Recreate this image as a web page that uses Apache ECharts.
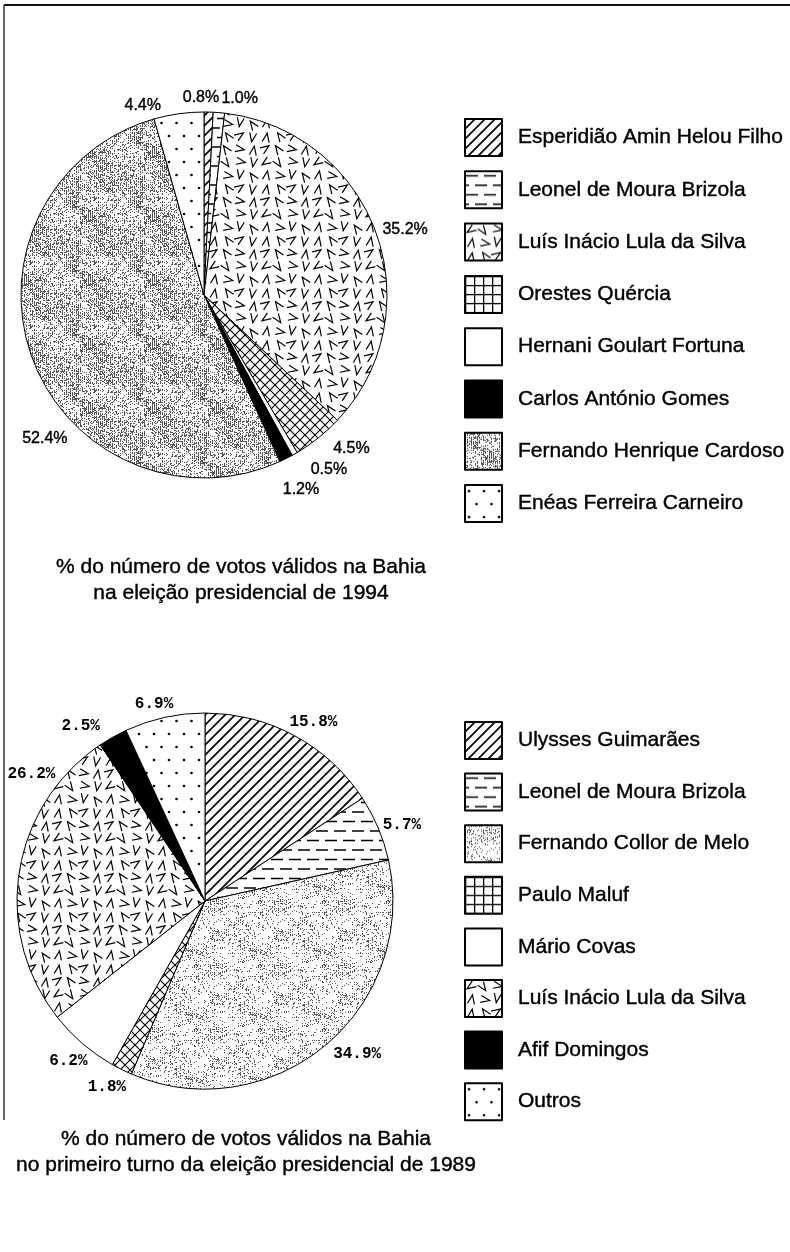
<!DOCTYPE html>
<html>
<head>
<meta charset="utf-8">
<script src="https://cdn.jsdelivr.net/npm/echarts@6/dist/echarts.min.js"></script>
<style>
  html, body { margin: 0; padding: 0; background: #fff; }
  #chart { width: 790px; height: 1252px; }
</style>
</head>
<body>
<div id="chart"></div>
<script>
// eleição presidencial de 1994 (Bahia), % dos votos válidos
const names1994 = ['Esperidião Amin Helou Filho', 'Leonel de Moura Brizola', 'Luís Inácio Lula da Silva',
  'Orestes Quércia', 'Hernani Goulart Fortuna', 'Carlos António Gomes', 'Fernando Henrique Cardoso',
  'Enéas Ferreira Carneiro']
const votes1994 = [0.8, 1.0, 35.2, 4.5, 0.5, 1.2, 52.4, 4.4]

// primeiro turno de 1989 (Bahia)
const names1989 = ['Ulysses Guimarães', 'Leonel de Moura Brizola', 'Fernando Collor de Melo', 'Paulo Maluf',
  'Mário Covas', 'Luís Inácio Lula da Silva', 'Afif Domingos', 'Outros']
const votes1989 = [15.8, 5.7, 34.9, 1.8, 6.2, 26.2, 2.5, 6.9]

const title1994 = '% do número de votos válidos na Bahia\nna eleição presidencial de 1994'
const title1989 = '% do número de votos válidos na Bahia\nno primeiro turno da eleição presidencial de 1989'

const SANS = 'Liberation Sans, Arial, sans-serif'
const MONO = 'Liberation Mono, Courier New, monospace'
// scanned print looks a bit heavier than the plain font
const INK = { color: '#000', textBorderColor: '#000', textBorderWidth: 0.4 }

// --- pattern tiles (the old b/w print hatching) ---
function tile(w, h, draw) {
  const c = document.createElement('canvas')
  c.width = w; c.height = h
  const g = c.getContext('2d')
  g.fillStyle = '#fff'; g.fillRect(0, 0, w, h)
  g.strokeStyle = '#000'; g.fillStyle = '#000'
  draw(g, w, h)
  return { image: c, repeat: 'repeat' }
}
// fixed hash so the texture is the same every run
function hash(x, y, s) {
  let h = Math.imul(x, 374761393) ^ Math.imul(y, 668265263) ^ Math.imul(s, 2246822519)
  h = Math.imul(h ^ (h >>> 13), 1274126177)
  return ((h ^ (h >>> 16)) >>> 0) / 4294967296
}

const P_HATCH = tile(10, 10, g => {
  g.lineWidth = 1.7
  g.beginPath()
  g.moveTo(-2, 12); g.lineTo(12, -2)
  g.moveTo(-2, 2); g.lineTo(2, -2)
  g.moveTo(8, 12); g.lineTo(12, 8)
  g.stroke()
})
const P_DASH = tile(18, 19, g => {
  g.lineWidth = 1.5
  g.beginPath()
  g.moveTo(1, 4.5); g.lineTo(13, 4.5)
  g.moveTo(10, 14); g.lineTo(18, 14)
  g.moveTo(0, 14); g.lineTo(4, 14)
  g.stroke()
})
const P_VEE = tile(52, 52, g => {
  g.lineWidth = 1.2
  for (let i = 0; i < 16; i++) {
    const cx = 6.5 + (i % 4) * 13 + (hash(i, 1, 5) - 0.5) * 3
    const cy = 6.5 + Math.floor(i / 4) * 13 + (hash(i, 2, 5) - 0.5) * 3
    const a = Math.floor(hash(i, 3, 5) * 8) * 45 + 10
    g.save(); g.translate(cx, cy); g.rotate(a * Math.PI / 180)
    g.beginPath()
    g.moveTo(-3.5, -4.5); g.lineTo(0, 4.5); g.lineTo(3.5, -4.5)
    g.stroke(); g.restore()
  }
})
const P_XGRID = tile(10, 10, g => {
  g.lineWidth = 1.1
  g.beginPath()
  g.moveTo(0, 0); g.lineTo(10, 10)
  g.moveTo(10, 0); g.lineTo(0, 10)
  g.stroke()
})
const P_GRID = tile(9, 9, g => {
  g.fillRect(0, 0, 9, 1.3)
  g.fillRect(0, 0, 1.3, 9)
})
function stipple(seed, dens) {
  return tile(64, 64, (g, w, h) => {
    g.fillStyle = '#555'
    for (let y = 0; y < h; y++) {
      for (let x = 0; x < w; x++) {
        const patch = 0.4 + 1.2 * hash(x >> 4, y >> 4, seed)
        const d = dens * patch * (x % 2 ? 0.5 : 1.5)
        if (hash(x, y, seed + 7) < d) g.fillRect(x, y, 1, 1)
      }
    }
  })
}
const P_GRAY_DARK = stipple(3, 0.3)
const P_GRAY_LIGHT = stipple(11, 0.13)
const P_DOTS = tile(15, 26, g => {
  g.beginPath(); g.arc(4, 6, 1.3, 0, Math.PI * 2); g.fill()
  g.beginPath(); g.arc(11.5, 19, 1.3, 0, Math.PI * 2); g.fill()
})

const fill1994 = [P_HATCH, P_DASH, P_VEE, P_XGRID, '#fff', '#000', P_GRAY_DARK, P_DOTS]
const fill1989 = [P_HATCH, P_DASH, P_GRAY_LIGHT, P_XGRID, '#fff', P_VEE, '#000', P_DOTS]
// legend boxes show the grid upright
const legendFill1994 = [P_HATCH, P_DASH, P_VEE, P_GRID, '#fff', '#000', P_GRAY_DARK, P_DOTS]
const legendFill1989 = [P_HATCH, P_DASH, P_GRAY_LIGHT, P_GRID, '#fff', P_VEE, '#000', P_DOTS]

// label nudges (the printed labels were placed by hand)
const shift1994 = [[-31, -8], [-3, -8], [-4, 0], [6, 6], [8, 10], [-11, 26], [46, 78], [-12, -2]]
const shift1989 = [[-13, -8], [-6, -1], [-1, 4], [12, 12], [14, 13], [47, -97], [-5, -6], [15, -8]]

const fmt = p => p.value.toFixed(1) + '%'

function pie(names, values, fills, center, radius, labelStyle, shift) {
  return {
    type: 'pie',
    center, radius,
    startAngle: 90,
    clockwise: true,
    avoidLabelOverlap: false,
    animation: false,
    emphasis: { disabled: true },
    itemStyle: { borderColor: '#000', borderWidth: 1 },
    label: { position: 'outside', formatter: fmt, fontSize: 16, ...labelStyle },
    labelLine: { show: false, length: 6, length2: 0 },
    labelLayout: p => ({ dx: shift[p.dataIndex][0], dy: shift[p.dataIndex][1] }),
    data: names.map((n, i) => ({ name: n, value: values[i], itemStyle: { color: fills[i] } }))
  }
}

function legend(names, fills, top, gap) {
  return {
    orient: 'vertical',
    left: 464, top,
    padding: 0,
    icon: 'rect',
    itemWidth: 37, itemHeight: 37, itemGap: gap,
    selectedMode: false,
    itemStyle: { borderColor: '#000', borderWidth: 2 },
    textStyle: { fontSize: 21, fontFamily: SANS, padding: [0, 0, 0, 11], ...INK },
    data: names.map((n, i) => ({ name: n, itemStyle: { color: fills[i] } }))
  }
}

const TITLE_STYLE = { fontSize: 21, fontWeight: 'normal', fontFamily: SANS, lineHeight: 26, ...INK }

const chart = echarts.init(document.getElementById('chart'), null, { renderer: 'canvas' })
chart.setOption({
  backgroundColor: '#fff',
  animation: false,
  title: [
    { text: title1994, left: 236, top: 549, textAlign: 'center', textStyle: TITLE_STYLE },
    { text: title1989, left: 241, top: 1121, textAlign: 'center', textStyle: TITLE_STYLE }
  ],
  legend: [
    legend(names1994, legendFill1994, 118, 13.3),
    legend(names1989, legendFill1989, 721, 12.6)
  ],
  series: [
    pie(names1994, votes1994, fill1994, [204, 295], 183, { fontFamily: SANS, ...INK }, shift1994),
    pie(names1989, votes1989, fill1989, [205, 901], 188, { fontFamily: MONO, fontWeight: 'bold', color: '#000' }, shift1989)
  ],
  graphic: [
    { type: 'line', shape: { x1: 4, y1: 5, x2: 790, y2: 5 }, style: { stroke: '#111', lineWidth: 2 } },
    { type: 'line', shape: { x1: 4, y1: 5, x2: 4, y2: 1120 }, style: { stroke: '#333', lineWidth: 1.5 } }
  ]
})
window.addEventListener('resize', () => chart.resize())
</script>
</body>
</html>
